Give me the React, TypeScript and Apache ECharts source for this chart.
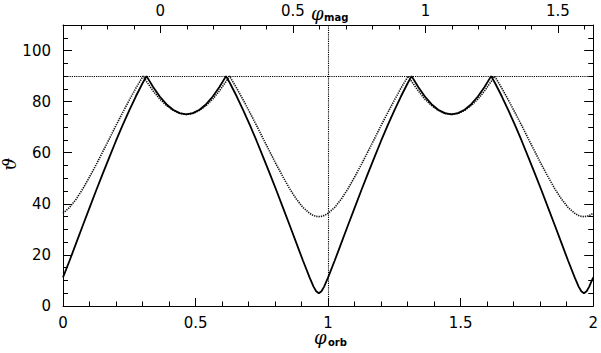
import React, { useEffect, useRef } from "react";
import * as echarts from "echarts";

// orbital phase samples (one cycle) and the read angle values
const phaseSolid = [0, 0.025, 0.05, 0.075, 0.1, 0.125, 0.15, 0.175, 0.2, 0.225, 0.25, 0.275, 0.3, 0.315, 0.34, 0.365, 0.39, 0.415, 0.44, 0.465, 0.49, 0.515, 0.54, 0.565, 0.59, 0.615, 0.63, 0.655, 0.68, 0.705, 0.73, 0.755, 0.78, 0.805, 0.83, 0.855, 0.88, 0.905, 0.93, 0.945, 0.955, 0.965, 0.975, 0.985, 1.0];
const thetaSolid = [11.2, 17.8, 24.7, 31.6, 38.4, 45.2, 51.8, 58.3, 64.7, 70.8, 76.6, 82.1, 87.2, 90, 85.7, 82.0, 79.0, 76.8, 75.5, 75.0, 75.5, 76.8, 79.0, 82.0, 85.7, 90, 87.2, 82.1, 76.6, 70.8, 64.7, 58.3, 51.8, 45.2, 38.4, 31.6, 24.7, 17.8, 11.2, 7.6, 5.8, 5.0, 5.8, 7.6, 11.2];
const phaseDotted = [0, 0.025, 0.05, 0.075, 0.1, 0.125, 0.15, 0.175, 0.2, 0.225, 0.25, 0.275, 0.302, 0.315, 0.34, 0.365, 0.39, 0.415, 0.44, 0.465, 0.49, 0.515, 0.54, 0.565, 0.59, 0.615, 0.628, 0.655, 0.68, 0.705, 0.73, 0.755, 0.78, 0.805, 0.83, 0.855, 0.88, 0.905, 0.93, 0.945, 0.955, 0.965, 0.975, 0.985, 1.0];
const thetaDotted = [36.3, 38.6, 41.9, 45.9, 50.5, 55.3, 60.4, 65.5, 70.7, 75.7, 80.6, 85.3, 90, 87.9, 84.2, 81.0, 78.5, 76.6, 75.4, 75.0, 75.4, 76.6, 78.5, 81.0, 84.2, 87.9, 90, 85.3, 80.6, 75.7, 70.7, 65.5, 60.4, 55.3, 50.5, 45.9, 41.9, 38.6, 36.3, 35.4, 35.1, 35.0, 35.1, 35.4, 36.3];
const cycles = [0, 1];

// ticks
const magOffset = 0.367; // phi_mag = phi_orb - magOffset
const magMajor = [0, 0.5, 1, 1.5];
const magMinor = [-0.3, -0.2, -0.1, 0.1, 0.2, 0.3, 0.4, 0.6, 0.7, 0.8, 0.9, 1.1, 1.2, 1.3, 1.4, 1.6];
const yMajor = [0, 20, 40, 60, 80, 100];
const yMinor = [5, 10, 15, 25, 30, 35, 45, 50, 55, 65, 70, 75, 85, 90, 95, 105];
const refTheta = 90;
const refPhase = 1;

function buildSeries(ph: number[], th: number[]) {
  const out: number[][] = [];
  cycles.forEach((c, ci) => {
    ph.forEach((p, i) => {
      if (ci > 0 && i === 0) return;
      out.push([p + c, th[i]]);
    });
  });
  return out;
}

const FONT = "DejaVu Sans";

export default function App() {
  const ref = useRef<HTMLDivElement>(null);
  useEffect(() => {
    if (!ref.current) return;
    const chart = echarts.init(ref.current, null, { renderer: "svg" });
    const axLine = { show: true, onZero: false, lineStyle: { color: "#000", width: 1 } };
    const noLine = { show: false, onZero: false };
    const lbl = { color: "#000", fontFamily: FONT, fontSize: 15 };
    chart.setOption({
      animation: false,
      backgroundColor: "#fff",
      grid: { left: 63, right: 4, top: 25, bottom: 47, containLabel: false },
      xAxis: [
        {
          type: "value", position: "bottom", min: 0, max: 2, interval: 0.5,
          axisLine: axLine,
          axisTick: { show: true, inside: true, length: 8, lineStyle: { color: "#000" } },
          minorTick: { show: true, splitNumber: 5, length: 4.5, lineStyle: { color: "#000" } },
          axisLabel: { ...lbl, margin: 9, showMaxLabel: true, showMinLabel: true },
          splitLine: { show: false },
        },
        {
          type: "value", position: "top", min: -magOffset, max: 2 - magOffset,
          axisLine: axLine,
          axisTick: { show: true, inside: true, length: 8, customValues: magMajor, lineStyle: { color: "#000" } },
          axisLabel: { ...lbl, margin: 7, customValues: magMajor },
          splitLine: { show: false },
        },
        {
          type: "value", position: "top", min: -magOffset, max: 2 - magOffset,
          axisLine: noLine,
          axisTick: { show: true, inside: true, length: 4.5, customValues: magMinor, lineStyle: { color: "#000" } },
          axisLabel: { show: false },
          splitLine: { show: false },
        },
      ],
      yAxis: [
        {
          type: "value", position: "left", min: 0, max: 110,
          axisLine: axLine,
          axisTick: { show: true, inside: true, length: 9, customValues: yMajor, lineStyle: { color: "#000" } },
          axisLabel: { ...lbl, margin: 12, customValues: yMajor },
          splitLine: { show: false },
        },
        {
          type: "value", position: "left", min: 0, max: 110,
          axisLine: noLine,
          axisTick: { show: true, inside: true, length: 5, customValues: yMinor, lineStyle: { color: "#000" } },
          axisLabel: { show: false },
          splitLine: { show: false },
        },
        {
          type: "value", position: "right", min: 0, max: 110,
          axisLine: axLine,
          axisTick: { show: true, inside: true, length: 9, customValues: yMajor, lineStyle: { color: "#000" } },
          axisLabel: { show: false },
          splitLine: { show: false },
        },
        {
          type: "value", position: "right", min: 0, max: 110,
          axisLine: noLine,
          axisTick: { show: true, inside: true, length: 5, customValues: yMinor, lineStyle: { color: "#000" } },
          axisLabel: { show: false },
          splitLine: { show: false },
        },
      ],
      series: [
        {
          type: "line", xAxisIndex: 0, yAxisIndex: 0,
          data: buildSeries(phaseDotted, thetaDotted),
          showSymbol: false, symbol: "none",
          lineStyle: { color: "#111", width: 1.6, type: [1.3, 1] },
          silent: true,
          markLine: {
            silent: true, symbol: ["none", "none"], label: { show: false },
            lineStyle: { color: "#000", width: 1.1, type: [1.2, 1] },
            data: [{ yAxis: refTheta }, { xAxis: refPhase }],
          },
        },
        {
          type: "line", xAxisIndex: 0, yAxisIndex: 0,
          data: buildSeries(phaseSolid, thetaSolid),
          showSymbol: false, symbol: "none",
          lineStyle: { color: "#000", width: 1.8 },
          silent: true,
        },
      ],
      graphic: [
        {
          type: "text", x: 9, y: 164, rotation: Math.PI / 2, originX: 0, originY: 0,
          style: { text: "\u03D1", font: "italic 18px 'DejaVu Serif'", fill: "#000", align: "center", verticalAlign: "middle" },
        },
        {
          type: "text", x: 314, y: 328,
          style: { text: "\u03C6", font: "italic 18px 'DejaVu Serif'", fill: "#000" },
        },
        {
          type: "text", x: 328, y: 337,
          style: { text: "orb", font: "bold 10px 'DejaVu Sans'", fill: "#000" },
        },
        {
          type: "text", x: 311, y: 4,
          style: { text: "\u03C6", font: "italic 18px 'DejaVu Serif'", fill: "#000" },
        },
        {
          type: "text", x: 324, y: 12,
          style: { text: "mag", font: "bold 10px 'DejaVu Sans'", fill: "#000" },
        },
      ],
    });
    return () => chart.dispose();
  }, []);
  return (
    <div
      ref={ref}
      style={{ position: "fixed", left: 0, top: 0, width: 601, height: 353, background: "#fff" }}
    />
  );
}
